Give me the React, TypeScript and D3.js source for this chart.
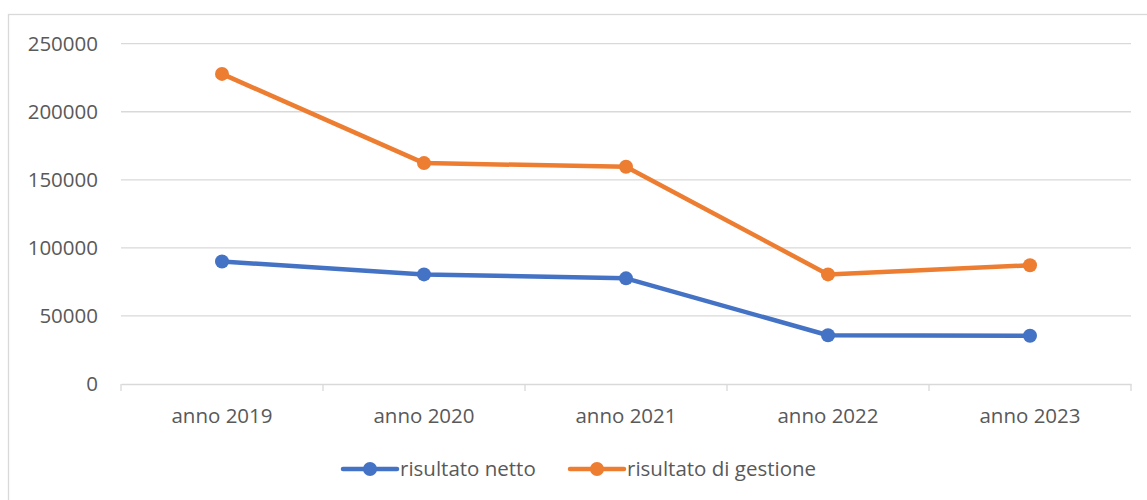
import React, { useRef, useEffect } from "react";
import { select, scaleLinear, scaleBand, line, axisLeft, axisBottom } from "d3";

// data
const categories = ["anno 2019", "anno 2020", "anno 2021", "anno 2022", "anno 2023"];
const risultatoNetto = [90000, 80500, 77600, 35800, 35500];
const risultatoGestione = [227800, 162300, 159600, 80500, 87200];
const yTicks = [0, 50000, 100000, 150000, 200000, 250000];
const seriesNames = ["risultato netto", "risultato di gestione"];
const seriesColors = ["#4472C4", "#ED7D31"];

const W = 1147;
const H = 500;
const FONT = "'Open Sans', sans-serif";
const FS = 20.5;

function LineChart() {
  const svgRef = useRef<SVGSVGElement>(null);

  useEffect(() => {
    const svg = select(svgRef.current);
    svg.selectAll("*").remove();

    // plot area
    const left = 121;
    const right = 1131;
    const top = 43.7;
    const bottom = 384;

    const x = scaleBand().domain(categories).range([left, right]);
    const y = scaleLinear().domain([0, 250000]).range([bottom, top]);

    // outer chart border (cropped at right/bottom)
    svg
      .append("rect")
      .attr("x", 8.5)
      .attr("y", 14.5)
      .attr("width", 1160)
      .attr("height", 520)
      .attr("fill", "#fff")
      .attr("stroke", "#d9d9d9")
      .attr("stroke-width", 1.3);

    // gridlines
    svg
      .append("g")
      .selectAll("line")
      .data(yTicks.filter((t) => t !== 0))
      .join("line")
      .attr("x1", left)
      .attr("x2", right)
      .attr("y1", (d) => y(d))
      .attr("y2", (d) => y(d))
      .attr("stroke", "#d9d9d9")
      .attr("stroke-width", 1.3);

    // y axis labels only
    const yAxis = svg
      .append("g")
      .attr("transform", `translate(${left},0)`)
      .call(axisLeft(y).tickValues(yTicks).tickSize(0).tickPadding(23).tickFormat((d) => String(d)));
    yAxis.select(".domain").remove();
    yAxis
      .selectAll("text")
      .attr("fill", "#595959")
      .attr("font-family", FONT)
      .attr("font-size", FS);

    // x axis with ticks between categories
    const xAxis = svg
      .append("g")
      .attr("transform", `translate(0,${bottom})`)
      .call(axisBottom(x).tickSize(0).tickPadding(24));
    xAxis.select(".domain").attr("stroke", "#d9d9d9").attr("stroke-width", 1.3);
    xAxis
      .selectAll("text")
      .attr("fill", "#595959")
      .attr("font-family", FONT)
      .attr("font-size", FS);
    xAxis
      .selectAll(".sep")
      .data([...categories.map((c) => x(c) as number), right])
      .join("line")
      .attr("class", "sep")
      .attr("x1", (d) => d)
      .attr("x2", (d) => d)
      .attr("y1", 0)
      .attr("y2", 7)
      .attr("stroke", "#d9d9d9")
      .attr("stroke-width", 1.3);

    const cx = (c: string) => (x(c) as number) + x.bandwidth() / 2;
    const allSeries = [risultatoNetto, risultatoGestione];

    allSeries.forEach((values, i) => {
      const pts = values.map((v, j) => [cx(categories[j]), y(v)] as [number, number]);
      svg
        .append("path")
        .attr("d", line()(pts))
        .attr("fill", "none")
        .attr("stroke", seriesColors[i])
        .attr("stroke-width", 4.5)
        .attr("stroke-linejoin", "round")
        .attr("stroke-linecap", "round");
      svg
        .append("g")
        .selectAll("circle")
        .data(pts)
        .join("circle")
        .attr("cx", (d) => d[0])
        .attr("cy", (d) => d[1])
        .attr("r", 7)
        .attr("fill", seriesColors[i]);
    });

    // legend
    const legendY = 469;
    const legendX = [343, 570];
    seriesNames.forEach((name, i) => {
      const g = svg.append("g").attr("transform", `translate(${legendX[i]},${legendY})`);
      g.append("line")
        .attr("x1", 0)
        .attr("x2", 54)
        .attr("stroke", seriesColors[i])
        .attr("stroke-width", 4.5)
        .attr("stroke-linecap", "round");
      g.append("circle").attr("cx", 27).attr("r", 7).attr("fill", seriesColors[i]);
      g.append("text")
        .attr("x", 57)
        .attr("dy", "0.35em")
        .attr("fill", "#595959")
        .attr("font-family", FONT)
        .attr("font-size", FS)
        .text(name);
    });
  }, []);

  return (
    <svg
      ref={svgRef}
      width={W}
      height={H}
      style={{ position: "absolute", left: 0, top: 0, background: "#fff" }}
    />
  );
}

export default function App() {
  return <LineChart />;
}
